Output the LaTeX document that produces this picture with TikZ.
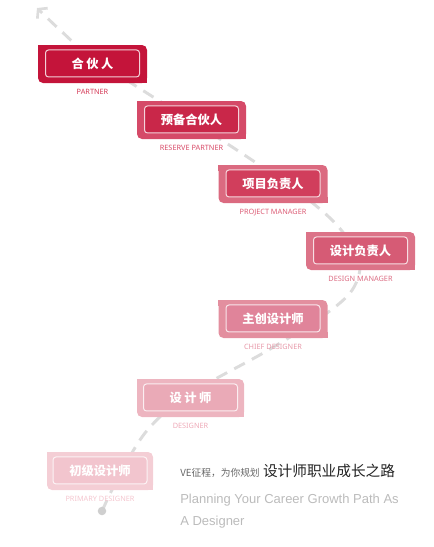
\documentclass[tikz,border=0pt]{standalone}
\usepackage{fontspec}
\setmainfont{Noto Sans}
\newfontfamily\cjk{Noto Sans CJK SC}
\newfontfamily\lsans{Liberation Sans}
\usetikzlibrary{arrows.meta}
\definecolor{trailgray}{HTML}{DCDCDC}
\definecolor{dotgray}{HTML}{CFCFCF}
\definecolor{oa}{HTML}{C4143A}\definecolor{ia}{HTML}{C4143A}\definecolor{la}{HTML}{D43A57}
\definecolor{ob}{HTML}{D54A68}\definecolor{ib}{HTML}{C92749}\definecolor{lb}{HTML}{D84C69}
\definecolor{oc}{HTML}{DB6A80}\definecolor{ic}{HTML}{D13E5C}\definecolor{lc}{HTML}{DC5E77}
\definecolor{od}{HTML}{DC7388}\definecolor{id}{HTML}{D65B75}\definecolor{ld}{HTML}{DC6E84}
\definecolor{oe}{HTML}{E38F9F}\definecolor{ie}{HTML}{E0849A}\definecolor{le}{HTML}{E79AAA}
\definecolor{of}{HTML}{EDB5C0}\definecolor{if}{HTML}{EAAAB7}\definecolor{lf}{HTML}{EEAAB8}
\definecolor{og}{HTML}{F4CED5}\definecolor{ig}{HTML}{F2C5CE}\definecolor{lg}{HTML}{F4C6CF}
\definecolor{taggray}{HTML}{666666}
\definecolor{titleblack}{HTML}{222222}
\definecolor{engray}{HTML}{BBBBBB}
\newcommand\rolebox[9]{%
  \node[outerbox, fill=#4, minimum width=#9] (o#1) at (#2,#3) {};
  \fill[#4] (o#1.north west) rectangle ++(6,6);
  \fill[#4] (o#1.south east) rectangle ++(-6,-6);
  \node[innerbox, fill=#5, draw=white!80!#5] (b#1) at ([yshift=0.4pt]o#1.center) {#7};
  \node[rolelabel, text=#6] (l#1) at ([yshift=-6.75pt]o#1.south) {#8};
}
\begin{document}
\begin{tikzpicture}[x=0.75pt,y=-0.75pt,
  outerbox/.style={inner sep=0pt, minimum height=28.5pt, rounded corners=3.75pt},
  innerbox/.style={minimum width=70.5pt, minimum height=20.25pt, inner sep=0pt,
    rounded corners=2.25pt, line width=0.75pt,
    font=\cjk\bfseries\fontsize{9.2}{10}\selectfont, text=white},
  rolelabel/.style={font=\fontsize{5.5}{6}\selectfont, inner sep=0pt},
  trail/.style={draw=trailgray, line width=2.2pt, dash pattern=on 9pt off 6pt,
    -{Straight Barb[length=4.5pt,width=11pt,line width=2pt]}}
]
\useasboundingbox (0,0) rectangle (433,547);
% trail
\coordinate (t0) at (102,511);
\coordinate (t1) at (120,474);
\coordinate (t2) at (145,433);
\coordinate (t3) at (175,404);
\coordinate (t4) at (210,382);
\coordinate (t5) at (265,352);
\coordinate (t6) at (320,318);
\coordinate (t7) at (350,293);
\coordinate (t8) at (360,268);
\coordinate (t9) at (352,245);
\coordinate (t10) at (330,218);
\coordinate (t11) at (290,186);
\coordinate (t12) at (220,139);
\coordinate (t13) at (150,95);
\coordinate (t14) at (90,56);
\coordinate (t15) at (60,30);
\coordinate (t16) at (37,8);
\draw[trail] plot[smooth, tension=0.55] coordinates {(t0) (t1) (t2) (t3) (t4) (t5) (t6) (t7) (t8) (t9) (t10) (t11) (t12) (t13) (t14) (t15) (t16)};
\fill[dotgray] (t0) circle[radius=3.2pt];
% boxes
\rolebox{1}{92.5}{64}{oa}{ia}{la}{合\kern1.8pt伙\kern1.8pt人}{PARTNER}{81.75pt}
\rolebox{2}{191.5}{120}{ob}{ib}{lb}{预备合伙人}{RESERVE PARTNER}{81.75pt}
\rolebox{3}{273}{184}{oc}{ic}{lc}{项目负责人}{PROJECT MANAGER}{81.75pt}
\rolebox{4}{360.5}{251}{od}{id}{ld}{设计负责人}{DESIGN MANAGER}{81.75pt}
\rolebox{5}{273}{319}{oe}{ie}{le}{主创设计师}{CHIEF DESIGNER}{81.75pt}
\rolebox{6}{190.5}{398}{of}{if}{lf}{设\kern1.8pt计\kern1.8pt师}{DESIGNER}{80.25pt}
\rolebox{7}{100}{471}{og}{ig}{lg}{初级设计师}{PRIMARY DESIGNER}{79.5pt}
% caption
\node[anchor=base west, inner sep=0pt] (tag) at (180,476)
  {{\cjk\fontsize{7.3}{8}\selectfont\color{taggray}VE征程，为你规划}\hspace{2.5pt}{\cjk\fontsize{11}{12}\selectfont\color{titleblack}设计师职业成长之路}};
\node[anchor=base west, inner sep=0pt, text=engray, font=\lsans\fontsize{9.75}{12}\selectfont] (en1) at (180,503) {Planning Your Career Growth Path As};
\node[anchor=base west, inner sep=0pt, text=engray, font=\lsans\fontsize{9.75}{12}\selectfont] (en2) at (180,525) {A Designer};
\end{tikzpicture}
\end{document}
